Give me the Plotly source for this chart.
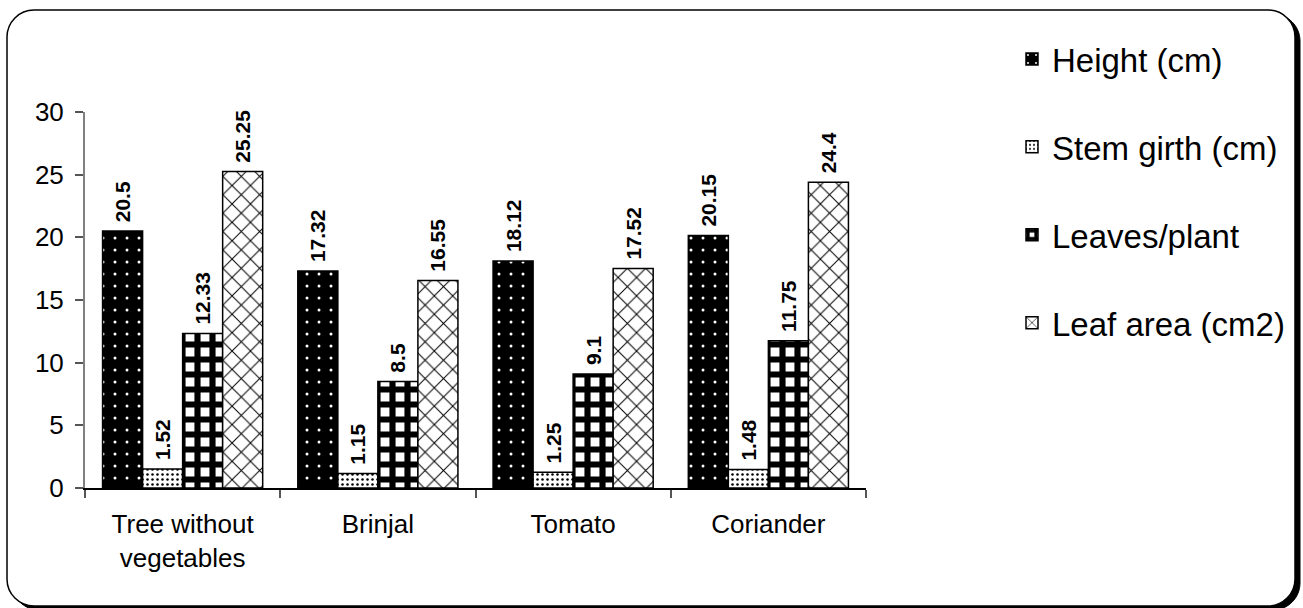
import plotly.graph_objects as go

categories = ["Tree without<br>vegetables", "Brinjal", "Tomato", "Coriander"]
series_names = ["Height (cm)", "Stem girth (cm)", "Leaves/plant", "Leaf area (cm2)"]
height = [20.5, 17.32, 18.12, 20.15]
stem_girth = [1.52, 1.15, 1.25, 1.48]
leaves = [12.33, 8.5, 9.1, 11.75]
leaf_area = [25.25, 16.55, 17.52, 24.4]
y_ticks = [0, 5, 10, 15, 20, 25, 30]

W, H = 1303, 608
L, R, T, B = 85, 866, 112, 488

def px_x(px):
    return (px - L) / (R - L)

def px_y(py):
    return (B - py) / (B - T)

def rounded_path(x0, y0, x1, y1, r):
    k = 0.5523 * r
    def P(x, y):
        return f"{px_x(x):.5f},{px_y(y):.5f}"
    s = f"M {P(x0 + r, y0)} L {P(x1 - r, y0)} "
    s += f"C {P(x1 - r + k, y0)} {P(x1, y0 + r - k)} {P(x1, y0 + r)} "
    s += f"L {P(x1, y1 - r)} "
    s += f"C {P(x1, y1 - r + k)} {P(x1 - r + k, y1)} {P(x1 - r, y1)} "
    s += f"L {P(x0 + r, y1)} "
    s += f"C {P(x0 + r - k, y1)} {P(x0, y1 - r + k)} {P(x0, y1 - r)} "
    s += f"L {P(x0, y0 + r)} "
    s += f"C {P(x0, y0 + r - k)} {P(x0 + r - k, y0)} {P(x0 + r, y0)} Z"
    return s

FONT = "Liberation Sans, Arial, sans-serif"

patterns = [
    dict(shape=".", bgcolor="black", fgcolor="white", size=12, solidity=0.05, fgopacity=1),
    dict(shape=".", bgcolor="white", fgcolor="black", size=5, solidity=0.2, fgopacity=1),
    dict(shape="+", bgcolor="white", fgcolor="black", size=15, solidity=0.65, fgopacity=1),
    dict(shape="x", bgcolor="white", fgcolor="black", size=13, solidity=0.15, fgopacity=1),
]
data = [height, stem_girth, leaves, leaf_area]

fig = go.Figure()
for i, (name, vals, pat) in enumerate(zip(series_names, data, patterns)):
    fig.add_trace(go.Bar(
        x=categories, y=vals, name=name,
        legendgroup=f"g{i}",
        marker=dict(color=pat["bgcolor"], pattern=pat,
                    line=dict(color="black", width=1.5)),
        text=["\u00a0" + f"{v:g}" for v in vals],
        textposition="outside", textangle=-90,
        constraintext="none", cliponaxis=False,
        textfont=dict(family=FONT, size=21, color="black", weight="bold"),
    ))

fig.add_shape(type="path", xref="paper", yref="paper", layer="below",
              path=rounded_path(12, 14, 1300, 610, 27),
              fillcolor="black", line=dict(color="black", width=1))
fig.add_shape(type="path", xref="paper", yref="paper", layer="below",
              path=rounded_path(7, 10, 1295, 606, 27),
              fillcolor="white", line=dict(color="black", width=1.5))

fig.update_layout(
    width=W, height=H,
    margin=dict(l=L, r=W - R, t=T, b=H - B),
    paper_bgcolor="white", plot_bgcolor="rgba(0,0,0,0)",
    barmode="group", bargap=0.18, bargroupgap=0,
    font=dict(family=FONT, color="black"),
    showlegend=True,
    legend=dict(x=px_x(1012), y=px_y(31), xanchor="left", yanchor="top",
                font=dict(family=FONT, size=33, color="black"),
                traceorder="grouped", tracegroupgap=42, maxheight=600,
                bgcolor="rgba(0,0,0,0)"),
    xaxis=dict(showline=True, linecolor="black", linewidth=1.5,
               ticks="outside", tickson="boundaries", ticklen=8,
               tickcolor="#555555", tickwidth=1.5, ticklabelstandoff=12,
               tickfont=dict(family=FONT, size=26, color="black"),
               showgrid=False),
    yaxis=dict(range=[0, 30], tickvals=y_ticks, showline=True,
               linecolor="#808080", linewidth=2,
               ticks="outside", ticklen=8, tickcolor="#555555", tickwidth=1.5,
               ticklabelstandoff=6,
               tickfont=dict(family=FONT, size=26, color="black"),
               showgrid=False, zeroline=False),
)

fig.write_html("out.html", config={"displayModeBar": False},
               post_script="document.body.style.margin='0px';")
